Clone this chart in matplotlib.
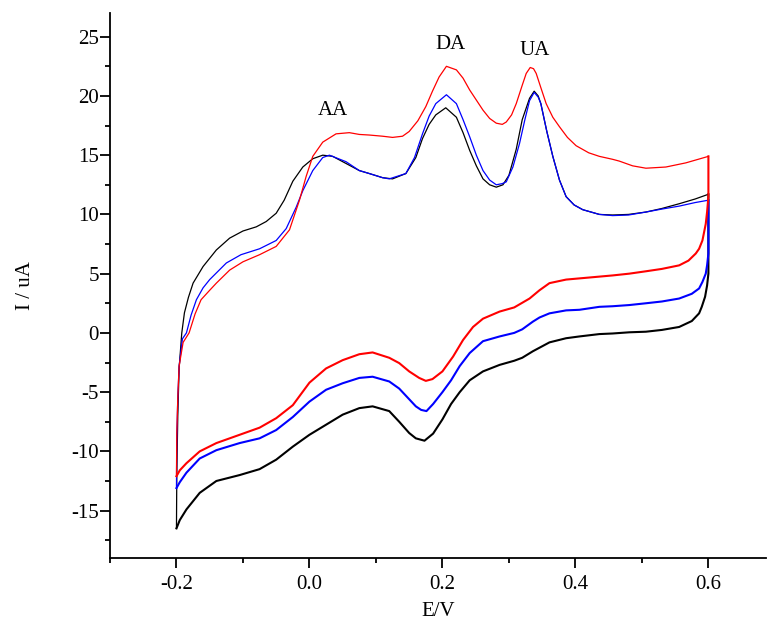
import matplotlib
matplotlib.use("Agg")
import matplotlib.pyplot as plt
from matplotlib.ticker import MultipleLocator

plt.rcParams['font.family'] = ['Liberation Serif', 'DejaVu Serif']

# forward (anodic) scans, -0.2 -> 0.6 V
black_fwd_x = [-0.200, -0.1995, -0.198, -0.196, -0.192, -0.188, -0.182, -0.175, -0.160, -0.140,
               -0.120, -0.100, -0.080, -0.065, -0.050, -0.038, -0.025, -0.010, 0.005, 0.020,
               0.035, 0.055, 0.075, 0.090, 0.110, 0.125, 0.145, 0.160, 0.170, 0.180,
               0.190, 0.205, 0.221, 0.231, 0.241, 0.251, 0.261, 0.271, 0.281, 0.291,
               0.300, 0.311, 0.320, 0.331, 0.338, 0.344, 0.348, 0.357, 0.366, 0.376,
               0.386, 0.398, 0.411, 0.436, 0.456, 0.480, 0.506, 0.530, 0.556, 0.580, 0.600]
black_fwd_y = [-16.5, -12.0, -7.0, -3.0, 0.0, 1.7, 3.0, 4.2, 5.6, 7.0,
               8.0, 8.6, 8.95, 9.4, 10.1, 11.2, 12.8, 14.0, 14.7, 15.0,
               14.9, 14.3, 13.7, 13.45, 13.1, 13.0, 13.45, 14.8, 16.4, 17.6,
               18.4, 19.0, 18.2, 16.9, 15.4, 14.1, 13.0, 12.5, 12.3, 12.5,
               13.3, 15.5, 18.0, 19.8, 20.4, 20.0, 19.35, 17.0, 14.9, 12.9,
               11.5, 10.8, 10.4, 10.0, 9.95, 10.0, 10.2, 10.5, 10.9, 11.3, 11.7]

blue_fwd_x = [-0.200, -0.1995, -0.198, -0.196, -0.191, -0.185, -0.178, -0.170, -0.160, -0.150,
              -0.125, -0.103, -0.075, -0.050, -0.035, -0.020, -0.010, 0.005, 0.020, 0.030,
              0.055, 0.075, 0.090, 0.110, 0.120, 0.145, 0.158, 0.170, 0.180, 0.190,
              0.206, 0.221, 0.231, 0.241, 0.251, 0.261, 0.271, 0.281, 0.290, 0.296,
              0.306, 0.316, 0.324, 0.331, 0.338, 0.344, 0.348, 0.357, 0.366, 0.376,
              0.386, 0.398, 0.411, 0.436, 0.456, 0.480, 0.506, 0.530, 0.556, 0.580, 0.600]
blue_fwd_y = [-13.1, -9.0, -5.5, -2.8, -0.5, 0.0, 1.5, 2.8, 3.8, 4.5,
              5.9, 6.6, 7.1, 7.8, 8.8, 10.6, 12.0, 13.7, 14.8, 15.0,
              14.45, 13.7, 13.45, 13.1, 13.0, 13.45, 14.8, 16.8, 18.3, 19.35,
              20.1, 19.35, 18.0, 16.55, 15.0, 13.7, 12.9, 12.5, 12.6, 12.75,
              14.0, 16.0, 18.0, 19.6, 20.3, 19.9, 19.35, 17.0, 14.9, 12.9,
              11.5, 10.8, 10.4, 10.0, 9.9, 9.95, 10.2, 10.45, 10.7, 11.0, 11.2]

red_fwd_x = [-0.200, -0.1995, -0.198, -0.196, -0.190, -0.181, -0.172, -0.163, -0.150, -0.140,
             -0.120, -0.100, -0.075, -0.050, -0.030, -0.015, -0.005, 0.005, 0.020, 0.040,
             0.060, 0.075, 0.090, 0.110, 0.125, 0.140, 0.150, 0.163, 0.175, 0.185,
             0.195, 0.206, 0.221, 0.231, 0.241, 0.261, 0.271, 0.281, 0.290, 0.296,
             0.304, 0.311, 0.320, 0.326, 0.332, 0.337, 0.341, 0.348, 0.356, 0.366,
             0.376, 0.388, 0.401, 0.420, 0.436, 0.456, 0.466, 0.486, 0.506, 0.536, 0.566, 0.600]
red_fwd_y = [-12.1, -8.5, -5.5, -2.8, -0.8, 0.0, 1.6, 2.8, 3.6, 4.2,
             5.3, 6.0, 6.6, 7.3, 8.7, 11.2, 13.2, 14.9, 16.1, 16.8,
             16.9, 16.75, 16.7, 16.6, 16.5, 16.6, 17.0, 17.9, 19.1, 20.4,
             21.6, 22.5, 22.2, 21.5, 20.5, 18.8, 18.1, 17.7, 17.6, 17.8,
             18.4, 19.35, 20.9, 21.9, 22.4, 22.3, 21.9, 20.7, 19.35, 18.2,
             17.4, 16.5, 15.8, 15.2, 14.9, 14.65, 14.5, 14.1, 13.9, 14.0, 14.35, 14.9]

# reverse (cathodic) scans, 0.6 -> -0.2 V
black_rev_x = [0.600, 0.600, 0.598, 0.595, 0.590, 0.586, 0.575, 0.556, 0.530, 0.506,
               0.481, 0.456, 0.436, 0.406, 0.386, 0.361, 0.336, 0.320, 0.308, 0.286,
               0.261, 0.241, 0.226, 0.213, 0.200, 0.186, 0.173, 0.160, 0.150, 0.135,
               0.120, 0.095, 0.075, 0.050, 0.025, 0.000, -0.025, -0.050, -0.075, -0.105,
               -0.140, -0.165, -0.185, -0.195, -0.200]
black_rev_y = [11.7, 5.0, 4.0, 3.05, 2.2, 1.65, 1.0, 0.5, 0.25, 0.1,
               0.05, -0.05, -0.1, -0.3, -0.45, -0.8, -1.55, -2.1, -2.35, -2.7,
               -3.25, -4.0, -5.0, -6.0, -7.3, -8.5, -9.1, -8.9, -8.45, -7.5,
               -6.6, -6.2, -6.35, -6.9, -7.75, -8.6, -9.6, -10.7, -11.5, -12.0,
               -12.5, -13.5, -14.9, -15.8, -16.5]

blue_rev_x = [0.600, 0.600, 0.598, 0.596, 0.591, 0.586, 0.575, 0.556, 0.530, 0.506,
              0.481, 0.456, 0.436, 0.406, 0.386, 0.361, 0.346, 0.336, 0.320, 0.308,
              0.286, 0.261, 0.241, 0.226, 0.213, 0.200, 0.186, 0.176, 0.168, 0.160,
              0.150, 0.135, 0.120, 0.095, 0.075, 0.050, 0.025, 0.000, -0.025, -0.050,
              -0.075, -0.105, -0.140, -0.165, -0.185, -0.195, -0.200]
blue_rev_y = [11.2, 6.7, 5.7, 5.0, 4.3, 3.75, 3.3, 2.9, 2.65, 2.5,
              2.35, 2.25, 2.2, 1.95, 1.9, 1.65, 1.3, 0.95, 0.3, 0.0,
              -0.3, -0.7, -1.7, -2.8, -4.0, -5.0, -6.0, -6.6, -6.5, -6.2,
              -5.6, -4.7, -4.1, -3.7, -3.8, -4.25, -4.8, -5.8, -7.1, -8.2,
              -8.9, -9.3, -9.9, -10.6, -11.8, -12.6, -13.1]

red_rev_x = [0.600, 0.600, 0.598, 0.596, 0.591, 0.586, 0.581, 0.570, 0.556, 0.530,
             0.506, 0.481, 0.456, 0.436, 0.406, 0.386, 0.361, 0.346, 0.331, 0.308,
             0.286, 0.261, 0.246, 0.231, 0.216, 0.200, 0.185, 0.175, 0.165, 0.150,
             0.135, 0.120, 0.095, 0.075, 0.050, 0.025, 0.000, -0.025, -0.050, -0.075,
             -0.105, -0.140, -0.165, -0.185, -0.195, -0.200]
red_rev_y = [14.9, 11.5, 10.2, 9.2, 7.8, 7.1, 6.7, 6.1, 5.7, 5.4,
             5.2, 5.0, 4.85, 4.75, 4.6, 4.5, 4.2, 3.6, 2.9, 2.15,
             1.8, 1.2, 0.5, -0.6, -2.0, -3.25, -3.9, -4.05, -3.8, -3.25,
             -2.55, -2.1, -1.65, -1.8, -2.3, -3.0, -4.2, -6.1, -7.2, -8.0,
             -8.6, -9.3, -10.0, -11.0, -11.6, -12.1]

peak_labels = ["AA", "DA", "UA"]
peak_x = [0.035, 0.212, 0.338]
peak_y = [18.8, 24.3, 23.8]

fig = plt.figure(figsize=(7.69, 6.25), dpi=100)
ax = fig.add_axes([0.143, 0.1072, 0.853, 0.872])

curves = [
    (black_fwd_x, black_fwd_y, black_rev_x, black_rev_y, "black"),
    (blue_fwd_x, blue_fwd_y, blue_rev_x, blue_rev_y, "blue"),
    (red_fwd_x, red_fwd_y, red_rev_x, red_rev_y, "red"),
]
for fx, fy, rx, ry, c in curves:
    ax.plot(fx, fy, color=c, lw=0.9)
    ax.plot(rx, ry, color=c, lw=1.5)

for lab, px, py in zip(peak_labels, peak_x, peak_y):
    ax.text(px, py, lab, ha="center", va="center", fontsize=15)

ax.set_xlim(-0.3, 0.6865)
ax.set_ylim(-19, 27)
ax.xaxis.set_minor_locator(MultipleLocator(0.1))
ax.yaxis.set_minor_locator(MultipleLocator(2.5))
ax.set_xticks([-0.2, 0.0, 0.2, 0.4, 0.6])
ax.set_xticklabels(["-0.2", "0.0", "0.2", "0.4", "0.6"])
ax.set_yticks([-15, -10, -5, 0, 5, 10, 15, 20, 25])
ax.set_yticklabels(["-15", "-10", "-5", "0", "5", "10", "15", "20", "25"])

for s in ["top", "right"]:
    ax.spines[s].set_visible(False)
for s in ["left", "bottom"]:
    ax.spines[s].set_linewidth(1.3)
ax.tick_params(which="major", direction="out", length=7, width=1.3, labelsize=15)
ax.tick_params(which="minor", direction="out", length=3.5, width=1.3)
ax.tick_params(axis="y", which="major", pad=1)
ax.tick_params(axis="x", which="major", pad=5)

ax.set_xlabel("E/V", fontsize=15, labelpad=6)
ax.set_ylabel("I / uA", fontsize=15, labelpad=26)

fig.savefig("out.png", dpi=100)
